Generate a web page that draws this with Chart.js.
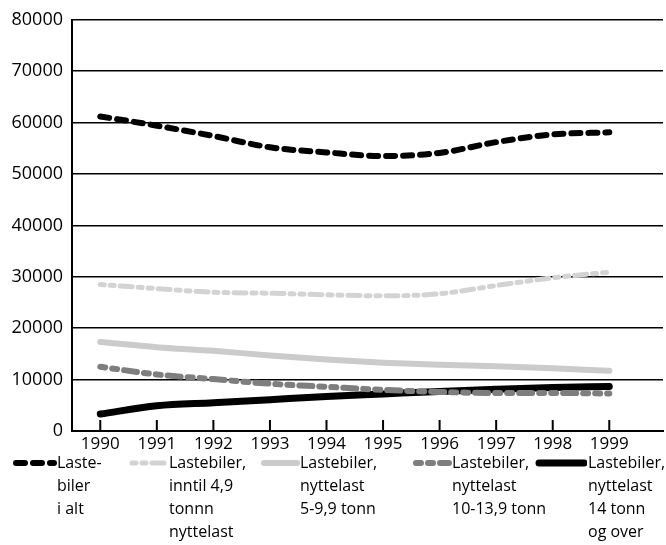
<!DOCTYPE html>
<html>
<head>
<meta charset="utf-8">
<script src="https://cdn.jsdelivr.net/npm/chart.js@4"></script>
<style>
  body { margin: 0; background: #fff; }
  #wrap { position: relative; width: 666px; height: 545px; }
  #chart { position: absolute; left: 0; top: 0; }
  .item { position: absolute; top: 451px; }
  .item canvas { position: absolute; top: 5px; }
  .item .txt { position: absolute; top: 0; font-family: "Open Sans", sans-serif; font-size: 16px; line-height: 23px; color: #000; white-space: nowrap; }
</style>
</head>
<body>
<div id="wrap">
  <canvas id="chart" width="666" height="545"></canvas>
  <div id="legend"></div>
</div>
<script>
var years = [1990, 1991, 1992, 1993, 1994, 1995, 1996, 1997, 1998, 1999];
var totalAll = [61200, 59400, 57400, 55200, 54200, 53500, 54100, 56200, 57700, 58100];
var upTo49 = [28500, 27700, 27000, 26800, 26500, 26300, 26700, 28300, 29800, 30900];
var from5to99 = [17300, 16300, 15600, 14700, 13900, 13300, 12900, 12600, 12200, 11700];
var from10to139 = [12500, 11000, 10100, 9200, 8600, 8000, 7600, 7400, 7400, 7300];
var from14 = [3300, 4900, 5500, 6100, 6700, 7200, 7700, 8100, 8450, 8650];
var yTicks = [0, 10000, 20000, 30000, 40000, 50000, 60000, 70000, 80000];

var labels = [
    ["Laste-", "biler", "i alt"],
    ["Lastebiler,", "inntil 4,9", "tonnn", "nyttelast"],
    ["Lastebiler,", "nyttelast", "5-9,9 tonn"],
    ["Lastebiler,", "nyttelast", "10-13,9 tonn"],
    ["Lastebiler,", "nyttelast", "14 tonn", "og over"]
];

function pts(arr) {
    return years.map(function (y, i) { return { x: y, y: arr[i] }; });
}

var styles = [
    { color: '#000', width: 6, dash: [9, 8] },
    { color: '#d3d3d3', width: 5, dash: [4, 6, 4, 6, 12, 6] },
    { color: '#cbcbcb', width: 6, dash: [] },
    { color: '#7e7e7e', width: 6, dash: [5, 7, 5, 7, 13, 7] },
    { color: '#000', width: 7, dash: [] }
];
var series = [totalAll, upTo49, from5to99, from10to139, from14];

var datasets = series.map(function (s, i) {
    return {
        label: labels[i].join(' '),
        data: pts(s),
        borderColor: styles[i].color,
        borderWidth: styles[i].width,
        borderDash: styles[i].dash,
        borderCapStyle: 'round',
        pointRadius: 0,
        cubicInterpolationMode: 'monotone',
        fill: false
    };
});

// small tick marks pointing up into the plot
var innerTicks = {
    id: 'innerTicks',
    afterDraw: function (chart) {
        var ctx = chart.ctx;
        var xs = chart.scales.x;
        var bottom = chart.chartArea.bottom;
        ctx.save();
        ctx.strokeStyle = '#000';
        ctx.lineWidth = 2;
        years.forEach(function (y) {
            var px = xs.getPixelForValue(y);
            ctx.beginPath();
            ctx.moveTo(px, bottom);
            ctx.lineTo(px, bottom - 11);
            ctx.stroke();
        });
        ctx.restore();
    }
};

new Chart(document.getElementById('chart'), {
    type: 'line',
    data: { datasets: datasets },
    options: {
        responsive: false,
        animation: false,
        layout: { padding: { top: 18, right: 3, left: 0, bottom: 0 } },
        plugins: { legend: { display: false }, tooltip: { enabled: false } },
        scales: {
            x: {
                type: 'linear',
                min: 1989.5,
                max: 1999.95,
                afterBuildTicks: function (scale) {
                    scale.ticks = years.map(function (v) { return { value: v }; });
                },
                afterFit: function (scale) { scale.height = 114; },
                grid: { display: false, drawTicks: false },
                border: { color: '#000', width: 2 },
                ticks: {
                    padding: 3,
                    color: '#000',
                    maxRotation: 0,
                    font: { family: 'Open Sans', size: 17 },
                    callback: function (v) { return String(v); }
                }
            },
            y: {
                min: 0,
                max: 80000,
                afterBuildTicks: function (scale) {
                    scale.ticks = yTicks.map(function (v) { return { value: v }; });
                },
                afterFit: function (scale) { scale.width = 72; },
                grid: { color: '#000', lineWidth: 1.5, drawTicks: false },
                border: { color: '#000', width: 2 },
                ticks: {
                    padding: 9,
                    color: '#000',
                    font: { family: 'Open Sans', size: 18 },
                    callback: function (v) { return String(v); }
                }
            }
        }
    },
    plugins: [innerTicks]
});

// legend below the chart
var legendPos = [
    { sw: 12, swW: 45, tx: 57 },
    { sw: 128, swW: 40, tx: 169 },
    { sw: 260, swW: 40, tx: 300 },
    { sw: 412, swW: 40, tx: 452 },
    { sw: 535, swW: 52, tx: 588 }
];
var legend = document.getElementById('legend');
legendPos.forEach(function (p, i) {
    var item = document.createElement('div');
    item.className = 'item';
    item.style.left = '0px';
    var c = document.createElement('canvas');
    c.width = p.swW; c.height = 14;
    c.style.left = p.sw + 'px';
    var cx = c.getContext('2d');
    cx.strokeStyle = styles[i].color;
    cx.lineWidth = styles[i].width;
    cx.lineCap = 'round';
    cx.setLineDash(styles[i].dash);
    cx.beginPath();
    cx.moveTo(4, 7);
    cx.lineTo(p.swW - 3, 7);
    cx.stroke();
    item.appendChild(c);
    var t = document.createElement('div');
    t.className = 'txt';
    t.style.left = p.tx + 'px';
    t.innerHTML = labels[i].join('<br>');
    item.appendChild(t);
    legend.appendChild(item);
});
</script>
</body>
</html>
